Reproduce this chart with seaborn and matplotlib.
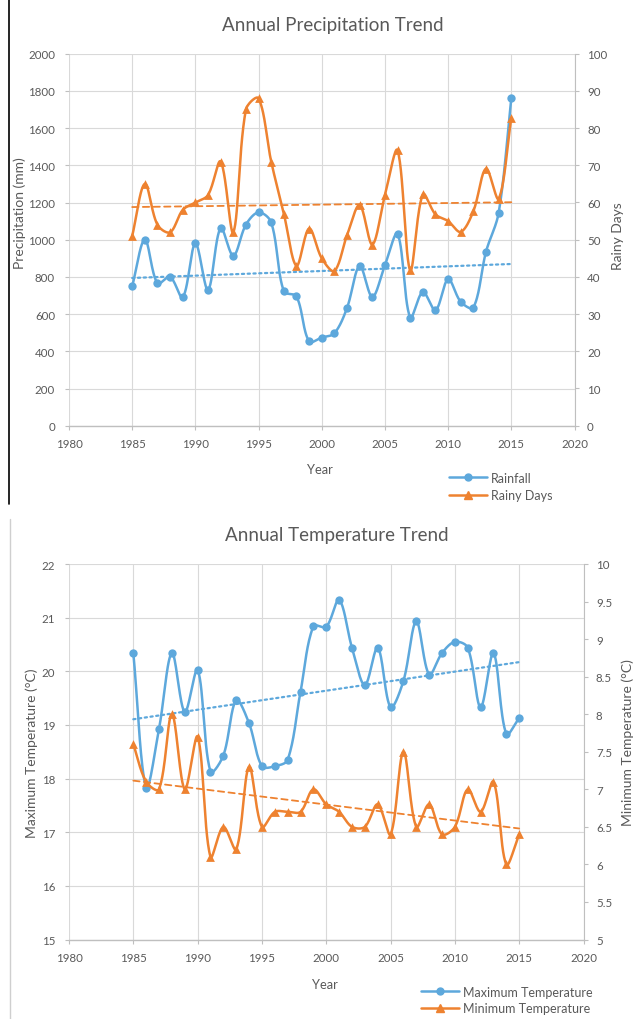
import numpy as np
import pandas as pd
import matplotlib
matplotlib.use("Agg")
import matplotlib.pyplot as plt
from matplotlib.lines import Line2D
import seaborn as sns

# ---- data -------------------------------------------------------------
years = list(range(1985, 2016))
rainfall_mm = [750, 1000, 765, 800, 690, 980, 730, 1063, 914, 1081,
               1147, 1093, 722, 695, 453, 474, 497, 633, 859, 692,
               864, 1032, 581, 719, 621, 787, 666, 635, 936, 1145, 1762]
rainy_days = [51, 65, 54, 52, 58, 60, 62, 71, 52, 85,
              88, 71, 57, 43, 53, 45, 41.6, 51.2, 59.3, 48.7,
              62, 74, 41.8, 62.2, 56.8, 55, 52.1, 57.7, 69.1, 61, 82.7]
max_temp = [20.34, 17.83, 18.93, 20.34, 19.24, 20.03, 18.13, 18.43, 19.46, 19.03,
            18.23, 18.23, 18.35, 19.62, 20.84, 20.83, 21.33, 20.44, 19.74, 20.44,
            19.33, 19.82, 20.93, 19.94, 20.34, 20.55, 20.44, 19.33, 20.34, 18.83, 19.13]
min_temp = [7.6, 7.1, 7.0, 8.0, 7.0, 7.7, 6.1, 6.5, 6.2, 7.3,
            6.5, 6.7, 6.7, 6.7, 7.0, 6.8, 6.7, 6.5, 6.5, 6.8,
            6.4, 7.5, 6.5, 6.8, 6.4, 6.5, 7.0, 6.7, 7.1, 6.0, 6.4]

BLUE = "#5DA8DC"
ORANGE = "#EE8230"
TEXT = "#595959"
GRID = "#D9D9D9"

sns.set_theme(style="whitegrid")
plt.rcParams["font.family"] = ["Lato", "DejaVu Sans"]
plt.rcParams["axes.unicode_minus"] = False

W, H = 635, 1020
fig = plt.figure(figsize=(W / 100, H / 100), dpi=100)


def px_axes(x0, y0, x1, y1):
    """Create axes from pixel box (top-left origin)."""
    return fig.add_axes([x0 / W, 1 - y1 / H, (x1 - x0) / W, (y1 - y0) / H])


def smooth_curve(x, y, sx, sy, n=30):
    """Smoothed line through the points: cubic Bezier segments whose control
    points follow the neighbouring chord, weighted by on-screen segment length."""
    P = np.column_stack([np.asarray(x, float) * sx, np.asarray(y, float) * sy])
    d = np.hypot(*np.diff(P, axis=0).T)
    k = len(P)
    t = np.linspace(0, 1, n)[:, None]
    pieces = []
    for i in range(k - 1):
        p0, p3 = P[i], P[i + 1]
        if i == 0:
            c1 = p0 + (p3 - p0) / 3
        else:
            c1 = p0 + (P[i + 1] - P[i - 1]) * d[i] / (3 * (d[i - 1] + d[i]))
        if i + 1 == k - 1:
            c2 = p3 - (p3 - p0) / 3
        else:
            c2 = p3 - (P[i + 2] - P[i]) * d[i] / (3 * (d[i] + d[i + 1]))
        seg = ((1 - t) ** 3) * p0 + 3 * ((1 - t) ** 2) * t * c1 \
            + 3 * (1 - t) * t ** 2 * c2 + t ** 3 * p3
        pieces.append(seg if i == 0 else seg[1:])
    pts = np.vstack(pieces)
    return pts[:, 0] / sx, pts[:, 1] / sy


def draw_series(ax, x, y, color, marker, trend_ls, msize, sx, sy, trend_lw):
    xs, ys = smooth_curve(x, y, sx, sy)
    curve = pd.DataFrame({"x": xs, "y": ys})
    sns.lineplot(data=curve, x="x", y="y", ax=ax, color=color, lw=1.8,
                 sort=False, estimator=None, zorder=2)
    sns.scatterplot(x=x, y=y, ax=ax, color=color, marker=marker, s=msize,
                    linewidth=0, zorder=3)
    sns.regplot(x=np.asarray(x, float), y=np.asarray(y, float), ax=ax,
                scatter=False, ci=None, truncate=True,
                line_kws=dict(color=color, lw=trend_lw, ls=trend_ls,
                              dash_capstyle="round", zorder=1))


def style_axes(ax, ax2, ylim, yticks, ylim2, yticks2):
    ax.set_xlim(1980, 2020)
    ax.set_xticks(range(1980, 2021, 5))
    ax.set_ylim(*ylim)
    ax.set_yticks(yticks)
    ax2.set_ylim(*ylim2)
    ax2.set_yticks(yticks2)
    ax.grid(True, color=GRID, lw=0.8)
    ax2.grid(False)
    for a in (ax, ax2):
        for s in a.spines.values():
            s.set_visible(False)
    ax.spines["bottom"].set_visible(True)
    ax.spines["bottom"].set_color("#BFBFBF")
    ax.spines["bottom"].set_linewidth(1.0)
    ax2.spines["right"].set_visible(True)
    ax2.spines["right"].set_color("#BFBFBF")
    ax2.spines["right"].set_linewidth(0.8)
    ax.tick_params(axis="both", which="major", direction="out", length=3,
                   color="#BFBFBF", labelcolor=TEXT, labelsize=8.3, width=0.8)
    ax.tick_params(axis="y", pad=7, left=True)
    ax.tick_params(axis="x", pad=6, bottom=True)
    ax2.tick_params(axis="y", direction="out", length=3, color="#BFBFBF",
                    labelcolor=TEXT, labelsize=8.3, width=0.8, pad=6, right=True)
    ax.set_xlabel("")
    ax.set_ylabel("")
    ax2.set_ylabel("")


LABEL_SIZE = 10

# ---- precipitation panel ----------------------------------------------
P_BOX = (69, 54.7, 574.5, 426.7)
ax_p = px_axes(*P_BOX)
ax_d = ax_p.twinx()
sx_p = (P_BOX[2] - P_BOX[0]) / 40
hp = P_BOX[3] - P_BOX[1]
draw_series(ax_p, years, rainfall_mm, BLUE, "o", (0, (1, 1.6)), 36, sx_p, hp / 2000, 1.6)
draw_series(ax_d, years, rainy_days, ORANGE, "^", (0, (3.5, 2.4)), 40, sx_p, hp / 100, 1.3)
style_axes(ax_p, ax_d, (0, 2000), range(0, 2001, 200), (0, 100), range(0, 101, 10))

ax_p.set_xlabel("Year", color=TEXT, fontsize=9.3)
ax_p.xaxis.set_label_coords(0.4965, -0.116)
ax_p.xaxis.label.set_va("center")
ax_p.set_ylabel("Precipitation (mm)", color=TEXT, fontsize=LABEL_SIZE)
ax_p.yaxis.set_label_coords(-0.097, 0.574)
ax_p.yaxis.label.set_va("center")
ax_d.set_ylabel("Rainy Days", color=TEXT, fontsize=LABEL_SIZE)
ax_d.yaxis.set_label_coords(1.0855, 0.513)
ax_d.yaxis.label.set_va("center")
fig.text(333 / W, 1 - 25 / H, "Annual Precipitation Trend", ha="center",
         va="center", color=TEXT, fontsize=13.5)

h_rain = [Line2D([], [], color=BLUE, lw=1.8, marker="o", ms=5),
          Line2D([], [], color=ORANGE, lw=1.8, marker="^", ms=5.5)]
fig.legend(h_rain, ["Rainfall", "Rainy Days"], loc="center left",
           bbox_to_anchor=(449 / W, 1 - 487.5 / H), frameon=False,
           fontsize=9, labelcolor=TEXT, handlelength=3.0, handletextpad=0.35,
           labelspacing=0.45, borderpad=0, borderaxespad=0)

# ---- temperature panel ------------------------------------------------
T_BOX = (69, 565, 583.5, 940.5)
ax_t = px_axes(*T_BOX)
ax_m = ax_t.twinx()
sx_t = (T_BOX[2] - T_BOX[0]) / 40
ht = T_BOX[3] - T_BOX[1]
draw_series(ax_t, years, max_temp, BLUE, "o", (0, (1, 1.6)), 36, sx_t, ht / 7, 1.6)
draw_series(ax_m, years, min_temp, ORANGE, "^", (0, (3.5, 2.4)), 40, sx_t, ht / 5, 1.3)
min_ticks = np.arange(5, 10.01, 0.5)
style_axes(ax_t, ax_m, (15, 22), range(15, 23), (5, 10), min_ticks)
ax_m.set_yticklabels([f"{v:g}" for v in min_ticks])

ax_t.set_xlabel("Year", color=TEXT, fontsize=9.3)
ax_t.xaxis.set_label_coords(0.4976, -0.118)
ax_t.xaxis.label.set_va("center")
ax_t.set_ylabel("Maximum Temperature (°C)", color=TEXT, fontsize=LABEL_SIZE)
ax_t.yaxis.set_label_coords(-0.0725, 0.499)
ax_t.yaxis.label.set_va("center")
ax_m.set_ylabel("Minimum Temperature (°C)", color=TEXT, fontsize=LABEL_SIZE)
ax_m.yaxis.set_label_coords(1.085, 0.526)
ax_m.yaxis.label.set_va("center")
fig.text(337 / W, 1 - 536 / H, "Annual Temperature Trend", ha="center",
         va="center", color=TEXT, fontsize=13.5)

h_temp = [Line2D([], [], color=BLUE, lw=1.8, marker="o", ms=5),
          Line2D([], [], color=ORANGE, lw=1.8, marker="^", ms=5.5)]
fig.legend(h_temp, ["Maximum Temperature", "Minimum Temperature"], loc="center left",
           bbox_to_anchor=(421 / W, 1 - 1001 / H), frameon=False,
           fontsize=9, labelcolor=TEXT, handlelength=3.0, handletextpad=0.35,
           labelspacing=0.35, borderpad=0, borderaxespad=0)

# panel frame edges
fig.add_artist(Line2D([9 / W, 9 / W], [1, 1 - 505 / H], color="black", lw=1.2))
fig.add_artist(Line2D([10 / W, 10 / W], [1 - 520 / H, 0], color="#CFCFCF", lw=1.0))

fig.savefig("out.png", dpi=100, facecolor="white")
